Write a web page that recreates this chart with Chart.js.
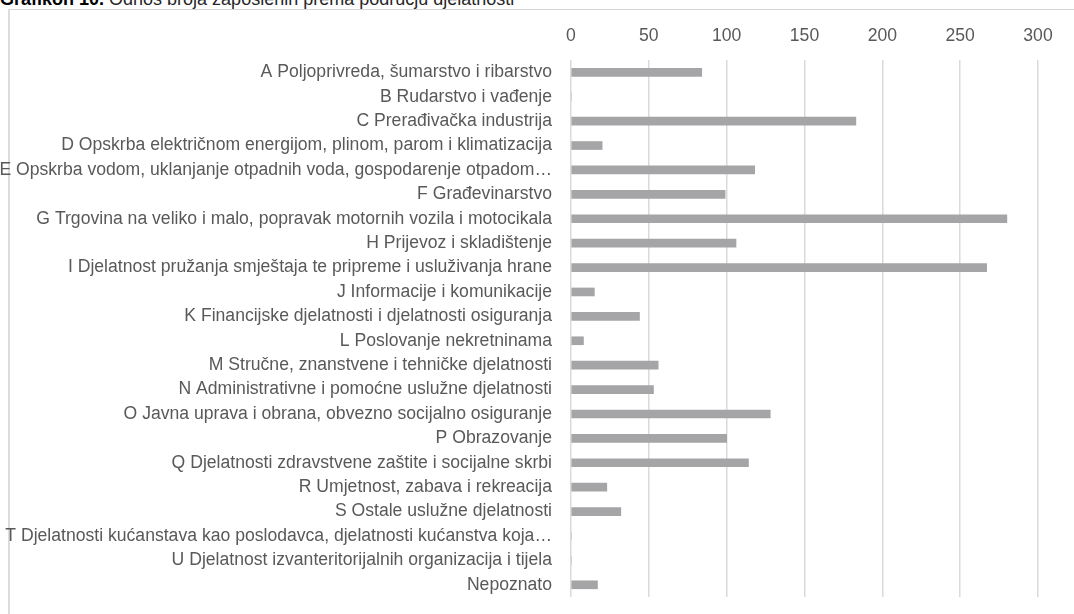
<!DOCTYPE html>
<html>
<head>
<meta charset="utf-8">
<script src="https://cdn.jsdelivr.net/npm/chart.js@4.4.1/dist/chart.umd.min.js"></script>
<style>
  html, body { margin: 0; padding: 0; background: #fff; overflow: hidden; }
  #wrap { position: relative; width: 1074px; height: 614px; }
  #title {
    position: absolute; left: 0; top: -11px; white-space: nowrap;
    font: 18px "Liberation Sans", Arial, sans-serif; color: #262626;
  }
  #title b { color: #000; }
  #box {
    position: absolute; left: 8px; top: 9px; width: 1100px; height: 700px;
    border-left: 2px solid #dcdcdc; border-top: 1px solid #d6d6d6;
  }
  #chart { position: absolute; left: 0; top: 0; }
</style>
</head>
<body>
<div id="wrap">
  <div id="title"><b>Grafikon 10.</b> Odnos broja zaposlenih prema području djelatnosti</div>
  <div id="box"></div>
  <canvas id="chart" width="1074" height="614"></canvas>
</div>
<script>
// podaci očitani s grafikona
const djelatnosti = [
  'A Poljoprivreda, šumarstvo i ribarstvo',
  'B Rudarstvo i vađenje',
  'C Prerađivačka industrija',
  'D Opskrba električnom energijom, plinom, parom i klimatizacija',
  'E Opskrba vodom, uklanjanje otpadnih voda, gospodarenje otpadom…',
  'F Građevinarstvo',
  'G Trgovina na veliko i malo, popravak motornih vozila i motocikala',
  'H Prijevoz i skladištenje',
  'I Djelatnost pružanja smještaja te pripreme i usluživanja hrane',
  'J Informacije i komunikacije',
  'K Financijske djelatnosti i djelatnosti osiguranja',
  'L Poslovanje nekretninama',
  'M Stručne, znanstvene i tehničke djelatnosti',
  'N Administrativne i pomoćne uslužne djelatnosti',
  'O Javna uprava i obrana, obvezno socijalno osiguranje',
  'P Obrazovanje',
  'Q Djelatnosti zdravstvene zaštite i socijalne skrbi',
  'R Umjetnost, zabava i rekreacija',
  'S Ostale uslužne djelatnosti',
  'T Djelatnosti kućanstava kao poslodavca, djelatnosti kućanstva koja…',
  'U Djelatnost izvanteritorijalnih organizacija i tijela',
  'Nepoznato'
];
const zaposleni = [84, 0, 183, 20, 118, 99, 280, 106, 267, 15, 44, 8, 56, 53, 128, 100, 114, 23, 32, 0, 0, 17];
const osX = { min: 0, max: 300, korak: 50 };

const font = { family: '"Liberation Sans", Arial, sans-serif', size: 17.6 };

new Chart(document.getElementById('chart'), {
  type: 'bar',
  data: {
    labels: djelatnosti,
    datasets: [{
      data: zaposleni,
      backgroundColor: '#a5a5a7',
      barThickness: 8
    }]
  },
  options: {
    indexAxis: 'y',
    responsive: false,
    animation: false,
    layout: { padding: { top: 13, right: 36, bottom: 17, left: 0 } },
    plugins: { legend: { display: false }, tooltip: { enabled: false } },
    scales: {
      x: {
        position: 'top',
        min: osX.min, max: osX.max,
        grid: { color: '#dadada', lineWidth: 1.5, drawTicks: false },
        border: { display: false },
        ticks: { stepSize: osX.korak, padding: 13, color: '#595959', font: font }
      },
      y: {
        grid: { display: false },
        border: { display: false },
        afterFit: s => { s.width = 571; s.paddingTop = 0; s.paddingBottom = 0; },
        ticks: { autoSkip: false, padding: 11, color: '#595959', font: font }
      }
    }
  }
});
</script>
</body>
</html>
